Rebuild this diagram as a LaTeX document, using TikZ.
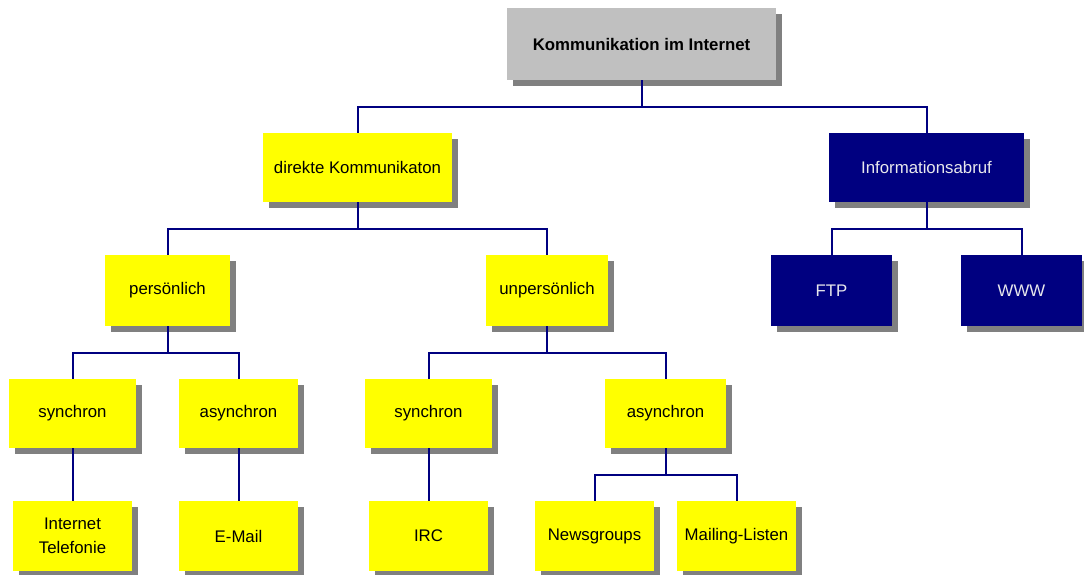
\documentclass[tikz,border=0pt]{standalone}
\usepackage{fontspec}
\setmainfont{Liberation Sans}
\usetikzlibrary{shadows}
\definecolor{navyc}{RGB}{0,0,128}
\definecolor{yel}{RGB}{255,255,0}
\definecolor{topgray}{RGB}{192,192,192}
\definecolor{shad}{RGB}{128,128,128}
\definecolor{lighttext}{RGB}{232,232,236}
\tikzset{
  box/.style={rectangle, inner sep=0pt, align=center,
    font=\fontsize{16.8}{24}\selectfont,
    drop shadow={shadow xshift=6pt, shadow yshift=-6pt, fill=shad, opacity=1}},
  ybox/.style={box, fill=yel, text=black},
  nbox/.style={box, fill=navyc, text=lighttext},
  gbox/.style={box, fill=topgray, text=black, font=\fontsize{16.8}{24}\selectfont\bfseries},
  conn/.style={draw=navyc, line width=2pt}
}
\begin{document}
\begin{tikzpicture}[x=1pt,y=-1pt]
\useasboundingbox (0,0) rectangle (1084,575);
% nodes
\node[gbox, minimum width=269pt, minimum height=72pt] (top) at (641.5,44) {Kommunikation im Internet};
\node[ybox, minimum width=189pt, minimum height=69pt] (dk) at (357.5,167.5) {direkte Kommunikaton};
\node[nbox, minimum width=195pt, minimum height=69pt] (info) at (926.5,167.5) {Informationsabruf};
\node[ybox, minimum width=125pt, minimum height=71pt] (pers) at (167.5,290.5) {persönlich};
\node[ybox, minimum width=122pt, minimum height=71pt] (unpers) at (547,290.5) {unpersönlich};
\node[nbox, minimum width=121pt, minimum height=71pt] (ftp) at (831.5,290.5) {FTP};
\node[nbox, minimum width=121pt, minimum height=71pt] (www) at (1021.5,290.5) {WWW};
\node[ybox, minimum width=127pt, minimum height=69pt] (syn1) at (72.5,413.5) {synchron};
\node[ybox, minimum width=119pt, minimum height=69pt] (asyn1) at (238.5,413.5) {asynchron};
\node[ybox, minimum width=127pt, minimum height=69pt] (syn2) at (428.5,413.5) {synchron};
\node[ybox, minimum width=121pt, minimum height=69pt] (asyn2) at (665.5,413.5) {asynchron};
\node[ybox, minimum width=119pt, minimum height=70pt] (tel) at (72.5,536) {Internet\\Telefonie};
\node[ybox, minimum width=119pt, minimum height=70pt] (email) at (238.5,536) {E-Mail};
\node[ybox, minimum width=119pt, minimum height=70pt] (irc) at (428.5,536) {IRC};
\node[ybox, minimum width=119pt, minimum height=70pt] (news) at (594.5,536) {Newsgroups};
\node[ybox, minimum width=119pt, minimum height=70pt] (mail) at (736.5,536) {Mailing-Listen};
% bar levels
\coordinate (b1) at (0,107);
\coordinate (b2) at (0,229);
\coordinate (b3) at (0,353);
\coordinate (b4) at (0,475);
% connectors
\draw[conn] (top.south) -- (top.south |- b1);
\draw[conn] (dk.north) |- (b1 -| top.south) -| (info.north);
\draw[conn] (dk.south) -- (dk.south |- b2);
\draw[conn] (pers.north) |- (b2 -| dk.south) -| (unpers.north);
\draw[conn] (info.south) -- (info.south |- b2);
\draw[conn] (ftp.north) |- (b2 -| info.south) -| (www.north);
\draw[conn] (pers.south) -- (pers.south |- b3);
\draw[conn] (syn1.north) |- (b3 -| pers.south) -| (asyn1.north);
\draw[conn] (unpers.south) -- (unpers.south |- b3);
\draw[conn] (syn2.north) |- (b3 -| unpers.south) -| (asyn2.north);
\draw[conn] (syn1.south) -- (tel.north);
\draw[conn] (asyn1.south) -- (email.north);
\draw[conn] (syn2.south) -- (irc.north);
\draw[conn] (asyn2.south) -- (asyn2.south |- b4);
\draw[conn] (news.north) |- (b4 -| asyn2.south) -| (mail.north);
\end{tikzpicture}
\end{document}
